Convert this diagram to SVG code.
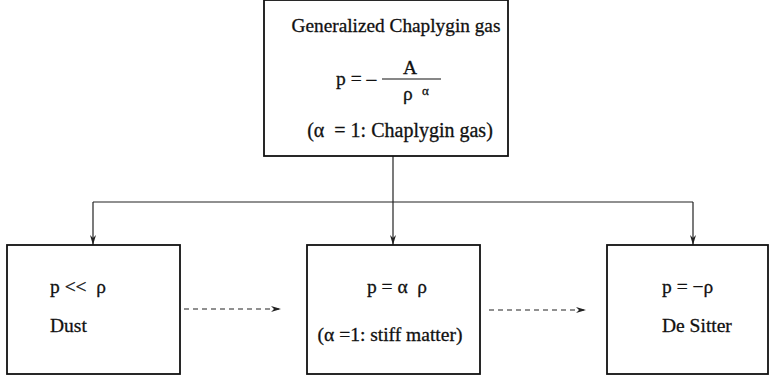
<svg xmlns="http://www.w3.org/2000/svg" width="769" height="378" viewBox="0 0 769 378">
  <style>
    .box { fill: #fff; stroke: #111; stroke-width: 1.8; }
    .t { font-family: "Liberation Serif", "Times New Roman", serif; font-size: 19.5px; fill: #111; stroke: #111; stroke-width: 0.3; white-space: pre; }
    .mid { text-anchor: middle; }
    .link { fill: none; stroke: #222; stroke-width: 1.2; }
    .dash { fill: none; stroke: #222; stroke-width: 1.2; stroke-dasharray: 5 4; }
  </style>
  <defs>
    <marker id="arrow" viewBox="0 0 10 6" refX="10" refY="3" markerWidth="10" markerHeight="6" markerUnits="userSpaceOnUse" orient="auto">
      <path d="M0,0 L10,3 L0,6 L3,3 z" fill="#222"/>
    </marker>
  </defs>
  <rect width="769" height="378" fill="#fff"/>

  <g id="connectors">
    <path class="link" d="M393,156 V245" marker-end="url(#arrow)"/>
    <path class="link" d="M93,202 H693"/>
    <path class="link" d="M93,202 V245" marker-end="url(#arrow)"/>
    <path class="link" d="M693,202 V245" marker-end="url(#arrow)"/>
    <path class="dash" d="M184,309 H281" marker-end="url(#arrow)"/>
    <path class="dash" d="M489,310 H586" marker-end="url(#arrow)"/>
  </g>

  <g id="gcg">
    <rect class="box" x="264" y="0" width="244" height="156"/>
    <text class="t mid" x="396" y="32" style="font-size:19.3px">Generalized Chaplygin gas</text>
    <text class="t" x="336" y="85" xml:space="preserve">p = –</text>
    <text class="t mid" x="410" y="74">A</text>
    <line x1="382" y1="79" x2="441" y2="79" stroke="#111" stroke-width="1.2"/>
    <text class="t" x="403" y="100">ρ</text>
    <text class="t" x="422" y="95" style="font-size:13px">α</text>
    <text class="t mid" x="400" y="137" style="font-size:20px" xml:space="preserve">(α  = 1: Chaplygin gas)</text>
  </g>

  <g id="dust">
    <rect class="box" x="7" y="245" width="173" height="129"/>
    <text class="t" x="50" y="293" xml:space="preserve">p &lt;&lt;  ρ</text>
    <text class="t" x="50" y="332">Dust</text>
  </g>

  <g id="stiff">
    <rect class="box" x="307" y="245" width="173" height="129"/>
    <text class="t mid" x="397" y="293" xml:space="preserve">p = α  ρ</text>
    <text class="t mid" x="390" y="341">(α =1: stiff matter)</text>
  </g>

  <g id="desitter">
    <rect class="box" x="607" y="245" width="161" height="129"/>
    <text class="t" x="662" y="293">p = −ρ</text>
    <text class="t" x="662" y="332">De Sitter</text>
  </g>
</svg>
